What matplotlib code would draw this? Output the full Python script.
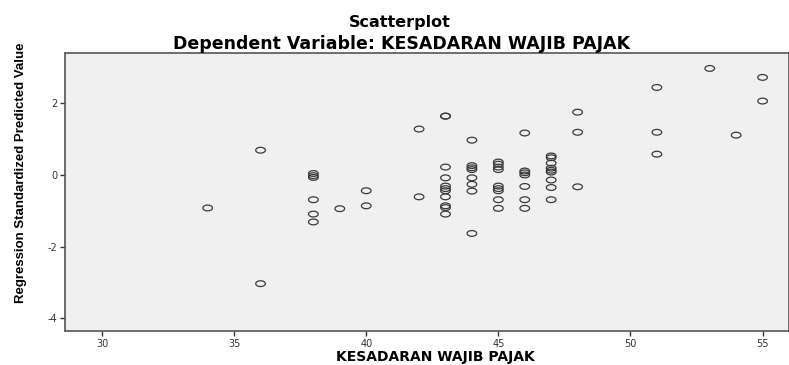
import numpy as np
import matplotlib.pyplot as plt
from matplotlib.path import Path

plt.rcParams['axes.unicode_minus'] = False

# Datos (x = KESADARAN WAJIB PAJAK, y = valor predicho estandarizado)
x34 = [-0.92]
x36 = [0.69, -3.03]
x38 = [0.04, -0.02, -0.07, -0.69, -1.09, -1.31]
x39 = [-0.94]
x40 = [-0.44, -0.86]
x42 = [1.28, -0.61]
x43 = [1.64, 1.64, 0.22, -0.08, -0.31, -0.38, -0.44, -0.61, -0.86, -0.91, -1.09]
x44 = [0.97, 0.26, 0.20, 0.15, -0.08, -0.26, -0.45, -1.63]
x45 = [0.36, 0.30, 0.22, 0.15, -0.31, -0.38, -0.44, -0.69, -0.93]
x46 = [1.17, 0.11, 0.06, 0.00, -0.32, -0.69, -0.93]
x47 = [0.53, 0.48, 0.33, 0.19, 0.13, 0.08, -0.14, -0.35, -0.69]
x48 = [1.75, 1.19, -0.33]
x51 = [2.44, 1.19, 0.58]
x53 = [2.97]
x54 = [1.11]
x55 = [2.72, 2.06]

groups = {34: x34, 36: x36, 38: x38, 39: x39, 40: x40, 42: x42, 43: x43,
          44: x44, 45: x45, 46: x46, 47: x47, 48: x48, 51: x51, 53: x53,
          54: x54, 55: x55}

xs = np.concatenate([[k] * len(v) for k, v in groups.items()])
ys = np.concatenate([v for v in groups.values()])

xticks = [30, 35, 40, 45, 50, 55]
yticks = [-4, -2, 0, 2]

# marcador eliptico (los circulos salen estirados en horizontal)
t = np.linspace(0, 2 * np.pi, 40)
ellipse = Path(np.column_stack([np.cos(t), 0.6 * np.sin(t)]), closed=True)

bold_font = ['DejaVu Sans']

fig = plt.figure(figsize=(7.89, 3.65), dpi=100)
ax = fig.add_axes([65 / 789, 34 / 365, 724 / 789, 278 / 365])
ax.set_facecolor('#f0f0f0')

ax.scatter(xs, ys, marker=ellipse, s=48, facecolors='none',
           edgecolors='#3a3a3a', linewidths=0.9)

ax.set_xlim(28.6, 56.0)
ax.set_ylim(-4.35, 3.4)
ax.set_xticks(xticks)
ax.set_yticks(yticks)
ax.tick_params(labelsize=7, colors='#333333', length=3.5, width=1, pad=2)

for s in ax.spines.values():
    s.set_color('#555555')
    s.set_linewidth(1.2)

ax.set_xlabel("KESADARAN WAJIB PAJAK", fontsize=10, fontweight='bold',
              family=bold_font, va='center')
ax.xaxis.set_label_coords((435 - 65) / 724, -(357 - 331) / 278)
ax.set_ylabel("Regression Standardized Predicted Value", fontsize=9.5,
              fontweight='bold', family=['Liberation Sans Narrow', 'Liberation Sans', 'DejaVu Sans'])
ax.yaxis.set_label_coords(-(65 - 27) / 724, (331 - 173) / 278)

fig.text(400 / 789, 1 - 22 / 365, "Scatterplot", ha='center', va='center',
         fontsize=11.5, fontweight='bold', family=bold_font)
fig.text(402 / 789, 1 - 44 / 365, "Dependent Variable: KESADARAN WAJIB PAJAK",
         ha='center', va='center', fontsize=12.5, fontweight='bold',
         family=bold_font)

fig.savefig("out.png", dpi=100)
